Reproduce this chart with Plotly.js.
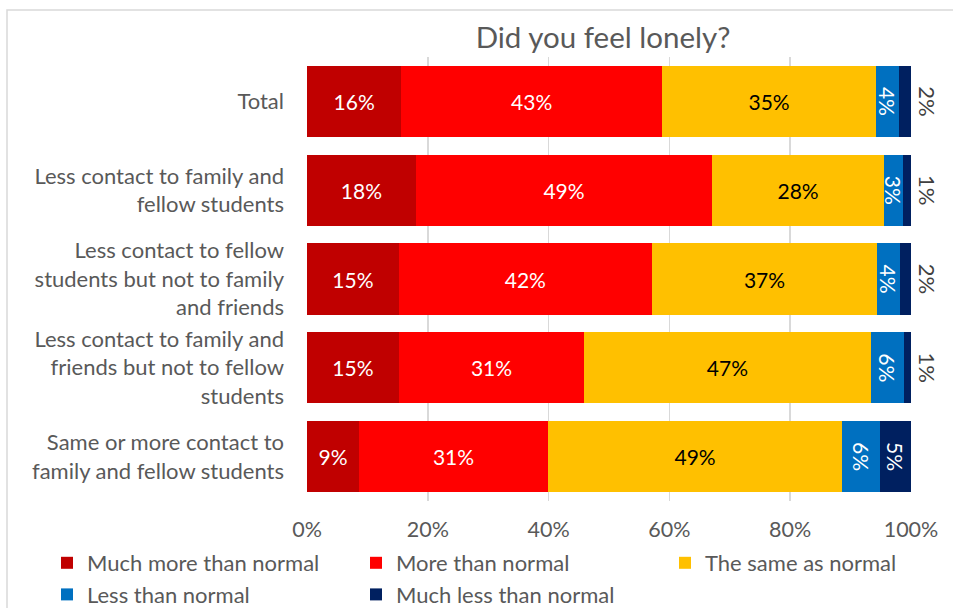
<!DOCTYPE html>
<html>
<head>
<meta charset="utf-8">
<script src="https://cdn.plot.ly/plotly-3.0.1.min.js"></script>
<style>
html,body{margin:0;padding:0;background:#fff;}
#chart{width:953px;height:608px;}
</style>
</head>
<body>
<div id="chart"></div>
<script>
const categories = [
  "Total",
  "Less contact to family and<br>fellow students",
  "Less contact to fellow<br>students but not to family<br>and friends",
  "Less contact to family and<br>friends but not to fellow<br>students",
  "Same or more contact to<br>family and fellow students"
];
const seriesNames = ["Much more than normal","More than normal","The same as normal","Less than normal","Much less than normal"];
const muchMore = [15.6, 18.0, 15.2, 15.2, 8.6];
const more     = [43.2, 49.1, 41.9, 30.7, 31.3];
const same     = [35.4, 28.4, 37.3, 47.4, 48.7];
const less     = [3.8, 3.2, 3.8, 5.6, 6.3];
const muchLess = [2.0, 1.3, 1.8, 1.1, 5.1];
const xTicks = [0, 20, 40, 60, 80, 100];

const colors = ["#C00000", "#FF0000", "#FFC000", "#0070C0", "#002060"];
const textColors = ["#FFFFFF", "#FFFFFF", "#000000", "#FFFFFF", "#FFFFFF"];
const FONT = "Lato, 'Open Sans', sans-serif";
const GREY = "#595959";

const values = [muchMore, more, same, less, muchLess];
const traces = values.map((v, i) => {
  const t = {
    type: "bar",
    orientation: "h",
    name: seriesNames[i],
    y: categories,
    x: v,
    marker: {color: colors[i], line: {width: 0}},
    texttemplate: "%{x:.0f}%",
    textposition: "inside",
    insidetextanchor: "middle",
    constraintext: "none",
    textfont: {family: FONT, size: 21, color: textColors[i]},
    hoverinfo: "skip",
    cliponaxis: false
  };
  if (i >= 3) t.textangle = 90;
  if (i === 4) {
    t.textposition = v.map(x => x < 3 ? "outside" : "inside");
    t.textfont = {family: FONT, size: 21, color: v.map(x => x < 3 ? "#404040" : "#FFFFFF")};
    t.outsidetextfont = {family: FONT, size: 22, color: "#404040"};
    t.insidetextfont = {family: FONT, size: 21, color: "#FFFFFF"};
  }
  return t;
});

const W = 953, H = 608;
// plot area: x 307..911, y 57..501 ; margin area widened on the right so the legend fits in two rows
const m = {l: 307, r: 15, t: 57, b: 107, autoexpand: false};
const pw = W - m.l - m.r, ph = H - m.t - m.b;
const px = x => (x - m.l) / pw;
const py = y => (H - m.b - y) / ph;

const layout = {
  width: W, height: H,
  margin: m,
  paper_bgcolor: "#FFFFFF",
  plot_bgcolor: "#FFFFFF",
  font: {family: FONT, color: GREY, size: 22},
  title: {text: "Did you feel lonely?", font: {family: FONT, size: 29.5, color: GREY}, x: px(603), xref: "paper", xanchor: "center", y: 1 - 38 / H, yanchor: "middle"},
  barmode: "stack",
  bargap: 0.2,
  showlegend: true,
  legend: {
    orientation: "h", x: px(47), xanchor: "left", y: py(542), yanchor: "top",
    entrywidth: 264, entrywidthmode: "pixels",
    bgcolor: "rgba(0,0,0,0)",
    font: {family: FONT, size: 22, color: GREY},
    traceorder: "normal", itemclick: false, tracegroupgap: 0
  },
  xaxis: {
    domain: [0, px(911)],
    range: [0, 100], tickvals: xTicks, ticktext: xTicks.map(t => t + "%"),
    showgrid: true, gridcolor: "#D9D9D9", gridwidth: 1.5, zeroline: false,
    showline: false, ticks: "", ticklabelstandoff: 13,
    tickfont: {family: FONT, size: 21.5, color: GREY},
    fixedrange: true
  },
  yaxis: {
    autorange: "reversed", showgrid: false, zeroline: false, showline: false,
    ticks: "", ticklabelstandoff: 22, tickfont: {family: FONT, size: 22, color: GREY},
    fixedrange: true
  },
  shapes: [{
    type: "rect", xref: "paper", yref: "paper",
    x0: px(7), x1: px(965), y0: py(10), y1: py(620),
    line: {color: "#D9D9D9", width: 1.5}, fillcolor: "rgba(0,0,0,0)", layer: "below"
  }]
};

Plotly.newPlot("chart", traces, layout, {displayModeBar: false, staticPlot: true});
</script>
</body>
</html>
